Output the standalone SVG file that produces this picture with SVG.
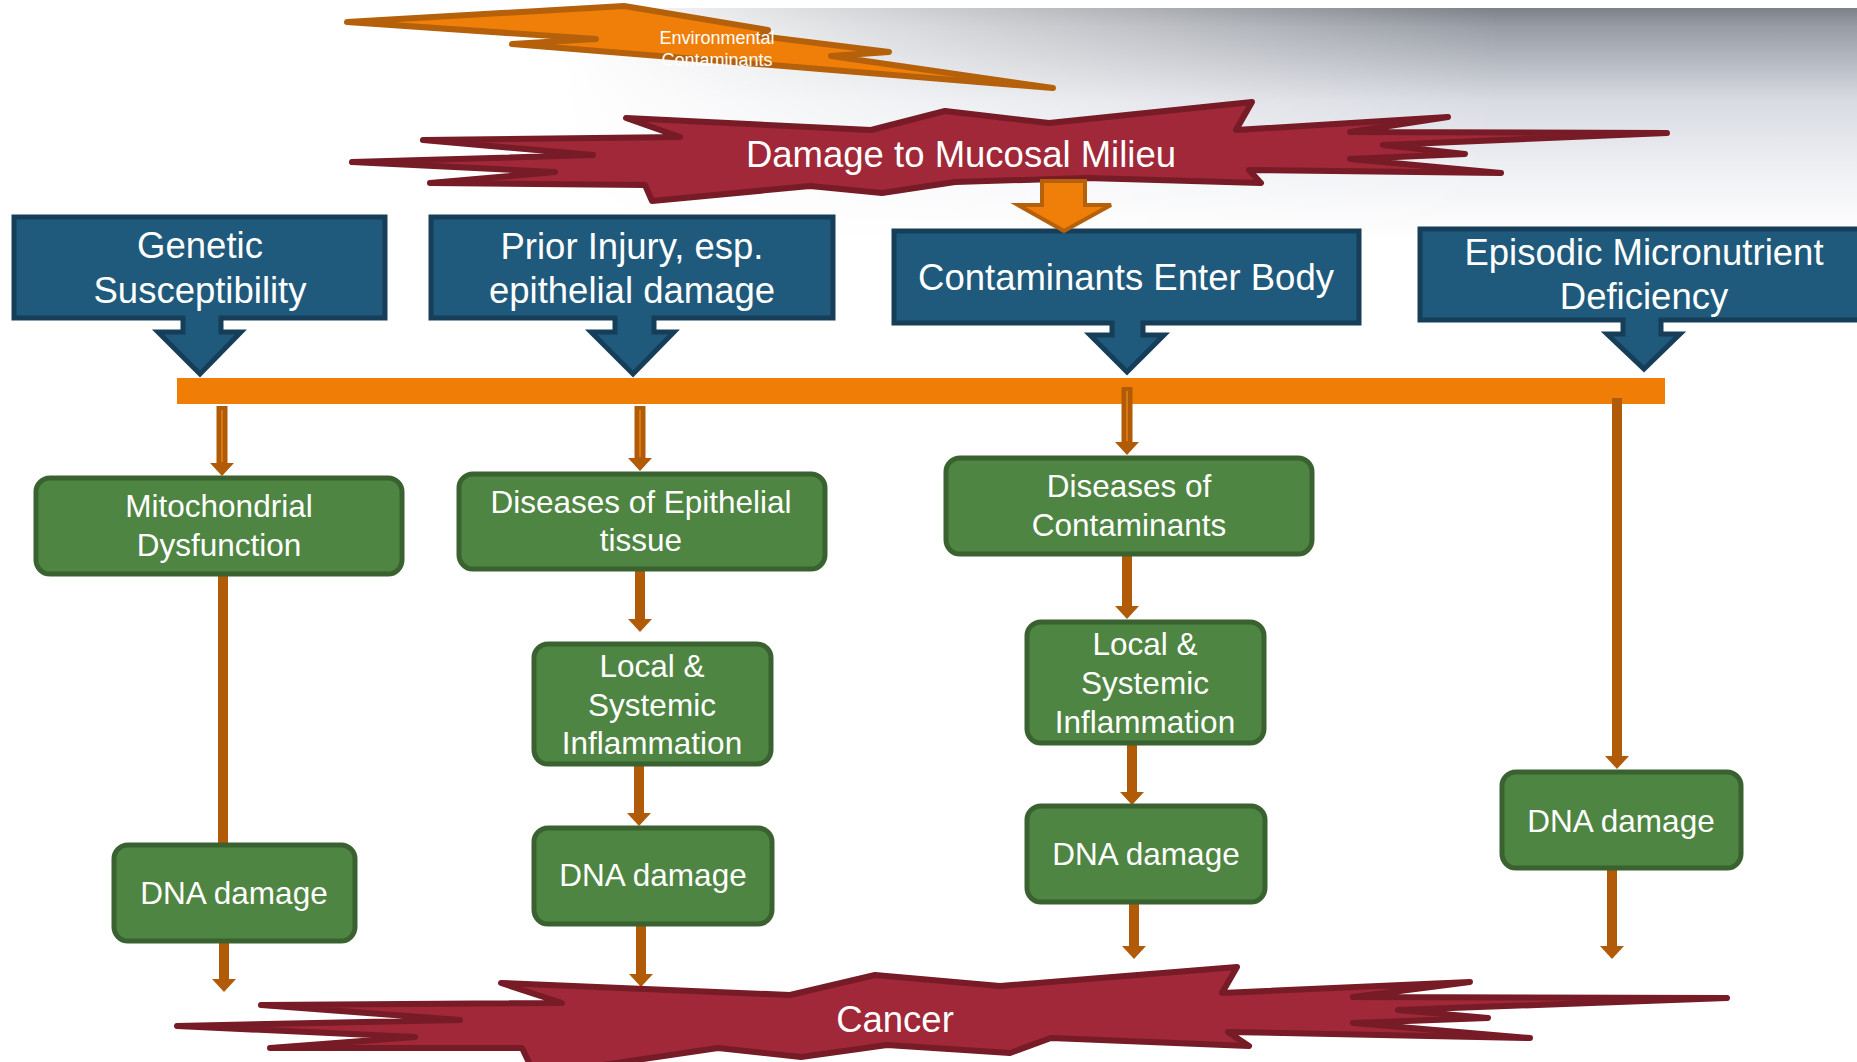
<svg xmlns="http://www.w3.org/2000/svg" width="1857" height="1062" viewBox="0 0 1857 1062">
<style>
.bolt-red{fill:#A02838;stroke:#771B27;stroke-width:6;stroke-linejoin:round}
.bolt-or{fill:#F07F09;stroke:#B5600A;stroke-width:6;stroke-linejoin:round}
.blue{fill:#1F5A7C;stroke:#163E58;stroke-width:5}
.green{fill:#4F8542;stroke:#3A6230;stroke-width:5}
.t{font-family:"Liberation Sans",Arial,sans-serif;fill:#FFFFFF;text-anchor:middle}
.big{font-size:36.5px}
.mid{font-size:31.5px}
.sm{font-size:18px}
.ln{stroke:#B15B09;stroke-width:10;fill:none}
.ln2{stroke:#B15B09;stroke-width:11;fill:none}
.in{stroke:#D97A10;stroke-width:2;fill:none}
</style>
<defs>
<marker id="ah" viewBox="0 0 13 24" refX="0" refY="12" markerWidth="13" markerHeight="24" markerUnits="userSpaceOnUse" orient="auto">
<path d="M0,0 L13,12 L0,24 Z" fill="#B15B09"/>
</marker>
<linearGradient id="gV" x1="0" y1="8" x2="0" y2="240" gradientUnits="userSpaceOnUse">
<stop offset="0" stop-color="#7C8087"/>
<stop offset="0.08" stop-color="#989CA4"/>
<stop offset="0.4" stop-color="#D8DBE2"/>
<stop offset="0.75" stop-color="#F2F3F6"/>
<stop offset="1" stop-color="#FFFFFF"/>
</linearGradient>
<linearGradient id="gH" x1="560" y1="0" x2="1500" y2="0" gradientUnits="userSpaceOnUse">
<stop offset="0" stop-color="#000"/>
<stop offset="1" stop-color="#FFF"/>
</linearGradient>
<mask id="mH"><rect x="0" y="0" width="1857" height="260" fill="url(#gH)"/></mask>
<radialGradient id="gL" cx="0" cy="0.5" r="0.5">
<stop offset="0" stop-color="#E4E4E4"/>
<stop offset="1" stop-color="#FFFFFF" stop-opacity="0"/>
</radialGradient>
</defs>
<rect x="0" y="0" width="1857" height="1062" fill="#FFFFFF"/>
<rect x="400" y="8" width="1457" height="240" fill="url(#gV)" mask="url(#mH)"/>
<ellipse cx="0" cy="500" rx="45" ry="125" fill="url(#gL)"/>

<g id="env-contaminants">
<path class="bolt-or" d="M347,22 L624,6 L768,30 L760,36 L889,52 L831,56 L1053,88 L512,44 L596,39 Z"/>
<text class="t sm" x="717" y="44">Environmental</text>
<text class="t sm" x="717" y="66">Contaminants</text>
</g>

<g id="damage-mucosal">
<path class="bolt-red" d="M626,118 L871,130 L945,111 L1049,123 L1252,102 L1236,130 L1448,117 L1350,132 L1667,133 L1383,145 L1465,154 L1350,159 L1501,173 L1249,170 L1261,183 L1087,178 L955,182 L882,193 L810,186 L652,201 L645,185 L430,183 L555,172 L352,162 L593,155 L423,140 L680,137 Z"/>
<text class="t big" x="961" y="167">Damage to Mucosal Milieu</text>
</g>

<g id="genetic">
<path class="blue" d="M14,217 H385 V318 H221 V332 H241 L200,374 L158,332 H183 V318 H14 Z"/>
<text class="t big" x="200" y="258">Genetic</text>
<text class="t big" x="200" y="303">Susceptibility</text>
</g>

<g id="prior-injury">
<path class="blue" d="M431,217 H833 V318 H654 V332 H674 L633,374 L591,332 H615 V318 H431 Z"/>
<text class="t big" x="632" y="259">Prior Injury, esp.</text>
<text class="t big" x="632" y="303">epithelial damage</text>
</g>

<g id="contaminants-enter">
<path class="blue" d="M894,231 H1359 V323 H1143 V335 H1164 L1127,372 L1090,335 H1112 V323 H894 Z"/>
<text class="t big" x="1126" y="290">Contaminants Enter Body</text>
</g>

<g id="episodic">
<path class="blue" d="M1420,229 H1870 V320 H1661 V334 H1680 L1644,369 L1607,334 H1623 V320 H1420 Z"/>
<text class="t big" x="1644" y="265">Episodic Micronutrient</text>
<text class="t big" x="1644" y="309">Deficiency</text>
</g>

<g id="mucosal-arrow">
<path class="bolt-or" style="stroke-width:4;stroke-linejoin:miter" d="M1042,181 H1085 V205 H1111 L1064,231 L1018,205 H1042 Z"/>
</g>

<g id="bar">
<rect x="177" y="378" width="1488" height="26" fill="#F07D05"/>
</g>

<g id="connectors">
<line class="ln2" x1="222" y1="406" x2="222" y2="463" marker-end="url(#ah)"/>
<line class="in" x1="222" y1="410" x2="222" y2="462"/>
<line class="ln2" x1="640" y1="406" x2="640" y2="458" marker-end="url(#ah)"/>
<line class="in" x1="640" y1="410" x2="640" y2="457"/>
<line class="ln2" x1="1127" y1="387" x2="1127" y2="442" marker-end="url(#ah)"/>
<line class="in" x1="1127" y1="391" x2="1127" y2="441"/>
<line class="ln" x1="1617" y1="398" x2="1617" y2="756" marker-end="url(#ah)"/>
<line class="ln" x1="223" y1="576" x2="223" y2="845"/>
<line class="ln" x1="224" y1="943" x2="224" y2="979" marker-end="url(#ah)"/>
<line class="ln" x1="640" y1="571" x2="640" y2="619" marker-end="url(#ah)"/>
<line class="ln" x1="639" y1="766" x2="639" y2="813" marker-end="url(#ah)"/>
<line class="ln" x1="641" y1="926" x2="641" y2="974" marker-end="url(#ah)"/>
<line class="ln" x1="1127" y1="556" x2="1127" y2="606" marker-end="url(#ah)"/>
<line class="ln" x1="1132" y1="745" x2="1132" y2="792" marker-end="url(#ah)"/>
<line class="ln" x1="1134" y1="904" x2="1134" y2="946" marker-end="url(#ah)"/>
<line class="ln" x1="1612" y1="870" x2="1612" y2="946" marker-end="url(#ah)"/>
</g>

<g id="mito">
<rect class="green" x="36" y="478" width="366" height="96" rx="14"/>
<text class="t mid" x="219" y="517">Mitochondrial</text>
<text class="t mid" x="219" y="556">Dysfunction</text>
</g>

<g id="dis-epithelial">
<rect class="green" x="459" y="474" width="366" height="95" rx="14"/>
<text class="t mid" x="641" y="513">Diseases of Epithelial</text>
<text class="t mid" x="641" y="551">tissue</text>
</g>

<g id="dis-contaminants">
<rect class="green" x="946" y="458" width="366" height="96" rx="14"/>
<text class="t mid" x="1129" y="497">Diseases of</text>
<text class="t mid" x="1129" y="536">Contaminants</text>
</g>

<g id="inflam-mid">
<rect class="green" x="534" y="644" width="237" height="120" rx="14"/>
<text class="t mid" x="652" y="677">Local &amp;</text>
<text class="t mid" x="652" y="716">Systemic</text>
<text class="t mid" x="652" y="754">Inflammation</text>
</g>

<g id="inflam-right">
<rect class="green" x="1027" y="622" width="237" height="121" rx="14"/>
<text class="t mid" x="1145" y="655">Local &amp;</text>
<text class="t mid" x="1145" y="694">Systemic</text>
<text class="t mid" x="1145" y="733">Inflammation</text>
</g>

<g id="dna1">
<rect class="green" x="114" y="845" width="241" height="96" rx="14"/>
<text class="t mid" x="234" y="904">DNA damage</text>
</g>

<g id="dna2">
<rect class="green" x="534" y="828" width="238" height="96" rx="14"/>
<text class="t mid" x="653" y="886">DNA damage</text>
</g>

<g id="dna3">
<rect class="green" x="1027" y="806" width="238" height="96" rx="14"/>
<text class="t mid" x="1146" y="865">DNA damage</text>
</g>

<g id="dna4">
<rect class="green" x="1502" y="772" width="239" height="96" rx="14"/>
<text class="t mid" x="1621" y="832">DNA damage</text>
</g>

<g id="cancer">
<path class="bolt-red" d="M501,983 L790,995 L875,975 L1000,986 L1237,967 L1222,993 L1470,982 L1353,997 L1727,998 L1398,1010 L1488,1018 L1353,1023 L1530,1038 L1228,1032 L1249,1046 L1051,1038 L1010,1053 L887,1045 L801,1057 L718,1048 L535,1075 L522,1048 L270,1048 L415,1037 L177,1026 L460,1020 L261,1005 L562,1003 Z"/>
<text class="t big" x="895" y="1032">Cancer</text>
</g>
</svg>
